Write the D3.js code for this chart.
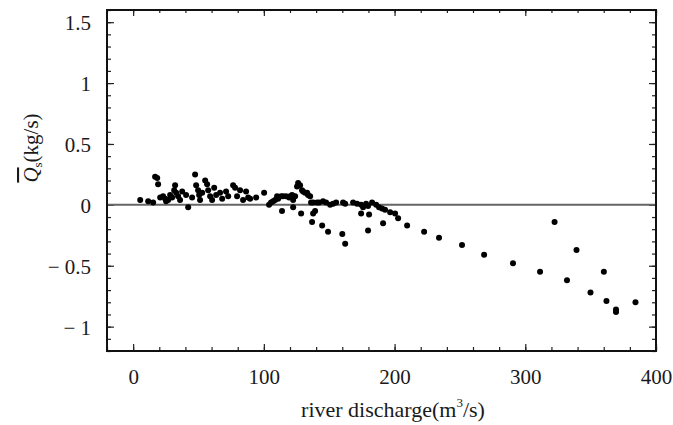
<!DOCTYPE html>
<html>
<head>
<meta charset="utf-8">
<script src="https://cdn.jsdelivr.net/npm/d3@7"></script>
<style>
body { margin: 0; background: #fff; }
text { font-family: "Liberation Serif", "DejaVu Serif", serif; }
</style>
</head>
<body>
<svg id="drawing_region"></svg>
<script>
// river discharge (m3/s)
const discharge = [
  5.4, 11.5, 15.3, 16.8, 18.4, 19.1, 20.7, 22.9, 24.5, 25.2, 26.8, 28.3, 29.8, 31.4, 32.1, 32.9,
  34.4, 35.9, 37.5, 40.5, 42.1, 45.1, 47.4, 48.2, 49.7, 50.5, 51.2, 52.8, 55.1, 56.6, 57.4, 58.9,
  60.4, 62.0, 63.5, 66.5, 68.1, 71.1, 72.7, 76.5, 78.0, 79.5, 81.8, 84.1, 86.4, 88.0,
  89.5, 94.1, 100.2, 104.0, 105.5, 107.1, 108.6, 110.1, 110.9, 113.2, 114.7, 117.0, 119.3, 120.1,
  121.6, 122.4, 123.9, 125.4, 126.2, 127.7, 129.2, 130.0, 131.5, 133.1, 133.8, 135.4, 136.1, 137.7,
  140.7, 142.3, 145.3, 147.6, 150.7, 153.0, 155.3, 160.6, 162.2, 168.3, 171.3, 174.4, 175.9, 178.2,
  179.7, 182.8, 185.9, 188.1, 190.4, 192.7, 196.6, 200.4, 202.7, 209.6,
  113.9, 122.4, 128.5, 136.9, 137.7, 139.2, 144.6, 149.1, 160.0, 162.2, 174.4, 179.7, 180.5, 191.2,
  222.6, 234.0, 251.6, 268.5, 290.6, 311.3, 322.4, 331.9, 339.2, 349.9, 360.1, 362.1, 369.4, 369.4, 384.3
];
// mean sediment flux Qs (kg/s)
const flux = [
  0.04, 0.03, 0.02, 0.23, 0.22, 0.17, 0.06, 0.07, 0.05, 0.03, 0.04, 0.08, 0.06, 0.12, 0.16, 0.10,
  0.07, 0.04, 0.11, 0.08, -0.02, 0.06, 0.25, 0.16, 0.12, 0.08, 0.04, 0.10, 0.20, 0.17, 0.12, 0.07,
  0.04, 0.14, 0.08, 0.10, 0.05, 0.11, 0.07, 0.16, 0.14, 0.07, 0.12, 0.04, 0.11, 0.06,
  0.05, 0.06, 0.10, 0.00, 0.02, 0.03, 0.04, 0.07, 0.05, 0.07, 0.07, 0.07, 0.06, 0.07,
  0.08, 0.04, 0.07, 0.15, 0.18, 0.16, 0.12, 0.11, 0.10, 0.10, 0.08, 0.07, 0.02, 0.02,
  0.02, 0.02, 0.03, 0.02, 0.00, 0.01, 0.02, 0.02, 0.01, 0.02, 0.01, 0.00, -0.02, 0.01,
  -0.01, 0.02, 0.00, -0.02, -0.03, -0.04, -0.06, -0.07, -0.11, -0.17,
  -0.05, -0.02, -0.07, -0.14, -0.07, -0.05, -0.17, -0.22, -0.24, -0.32, -0.07, -0.21, -0.08, -0.15,
  -0.22, -0.27, -0.33, -0.41, -0.48, -0.55, -0.14, -0.62, -0.37, -0.72, -0.55, -0.79, -0.86, -0.88, -0.80
];
const xTicks = [0, 100, 200, 300, 400];
const yTicks = [-1, -0.5, 0, 0.5, 1, 1.5];

const data = discharge.map((d, i) => ({ x: d, y: flux[i] }));

const config = {
  width: 673,
  height: 425,
  margin: { top: 10, right: 17, bottom: 74, left: 107 }
};

const svg = d3.select('#drawing_region')
  .attr('width', config.width)
  .attr('height', config.height);

const inner_width = config.width - config.margin.left - config.margin.right;
const inner_height = config.height - config.margin.top - config.margin.bottom;

const chart = svg.append('g')
  .attr('transform', `translate(${config.margin.left}, ${config.margin.top})`);

const xscale = d3.scaleLinear().domain([-20, 400]).range([0, inner_width]);
const yscale = d3.scaleLinear().domain([-1.2, 1.6]).range([inner_height, 0]);

const xMinor = d3.range(-20, 401, 20);
const yMinor = d3.range(-12, 17).map(d => d / 10);

const fmtY = d => d < 0 ? '\u2212 ' + Math.abs(d) : String(d);

// minor ticks (inward)
chart.append('g').attr('transform', `translate(0, ${inner_height})`)
  .call(d3.axisBottom(xscale).tickValues(xMinor).tickSize(-4).tickFormat(''));
chart.append('g')
  .call(d3.axisTop(xscale).tickValues(xMinor).tickSize(-3).tickFormat(''));
chart.append('g')
  .call(d3.axisLeft(yscale).tickValues(yMinor).tickSize(-4).tickFormat(''));
chart.append('g').attr('transform', `translate(${inner_width}, 0)`)
  .call(d3.axisRight(yscale).tickValues(yMinor).tickSize(-4).tickFormat(''));

// major ticks
const xaxis_group = chart.append('g').attr('transform', `translate(0, ${inner_height})`)
  .call(d3.axisBottom(xscale).tickValues(xTicks).tickSize(-7).tickPadding(18));
chart.append('g')
  .call(d3.axisTop(xscale).tickValues(xTicks).tickSize(-6).tickFormat(''));
const yaxis_group = chart.append('g')
  .call(d3.axisLeft(yscale).tickValues(yTicks).tickSize(-7).tickPadding(16).tickFormat(fmtY));
chart.append('g').attr('transform', `translate(${inner_width}, 0)`)
  .call(d3.axisRight(yscale).tickValues(yTicks).tickSize(-7).tickFormat(''));

chart.selectAll('.domain').remove();
chart.selectAll('.tick line').attr('stroke', '#222').attr('stroke-width', 1.2);
chart.selectAll('.tick text')
  .attr('fill', '#1a1a1a')
  .style('font-size', '21px')
  .style('font-family', '"Liberation Serif", serif');
yaxis_group.selectAll('.tick text').attr('dy', '0.35em');

// zero line
chart.append('line')
  .attr('x1', 0).attr('x2', inner_width)
  .attr('y1', yscale(0)).attr('y2', yscale(0))
  .attr('stroke', '#666')
  .attr('stroke-width', 2);

// points
chart.selectAll('circle')
  .data(data)
  .enter()
  .append('circle')
  .attr('cx', d => xscale(d.x))
  .attr('cy', d => yscale(d.y))
  .attr('r', 3)
  .attr('fill', '#000');

// frame
chart.append('rect')
  .attr('width', inner_width)
  .attr('height', inner_height)
  .attr('fill', 'none')
  .attr('stroke', '#111')
  .attr('stroke-width', 2);

// axis titles
const xt = svg.append('text')
  .attr('x', 393)
  .attr('y', 417)
  .attr('text-anchor', 'middle')
  .attr('fill', '#1a1a1a')
  .style('font-size', '22px');
xt.append('tspan').text('river discharge(m');
xt.append('tspan').attr('dy', -10).style('font-size', '13px').text('3');
xt.append('tspan').attr('dy', 10).text('/s)');

const yt = svg.append('text')
  .attr('transform', 'translate(38, 148) rotate(-90)')
  .attr('text-anchor', 'middle')
  .attr('fill', '#1a1a1a')
  .style('font-size', '21px');
yt.append('tspan').style('font-style', 'italic').style('text-decoration', 'overline').text('Q');
yt.append('tspan').attr('dy', 4).style('font-size', '13px').text('s');
yt.append('tspan').attr('dy', -4).text('(kg/s)');
</script>
</body>
</html>
